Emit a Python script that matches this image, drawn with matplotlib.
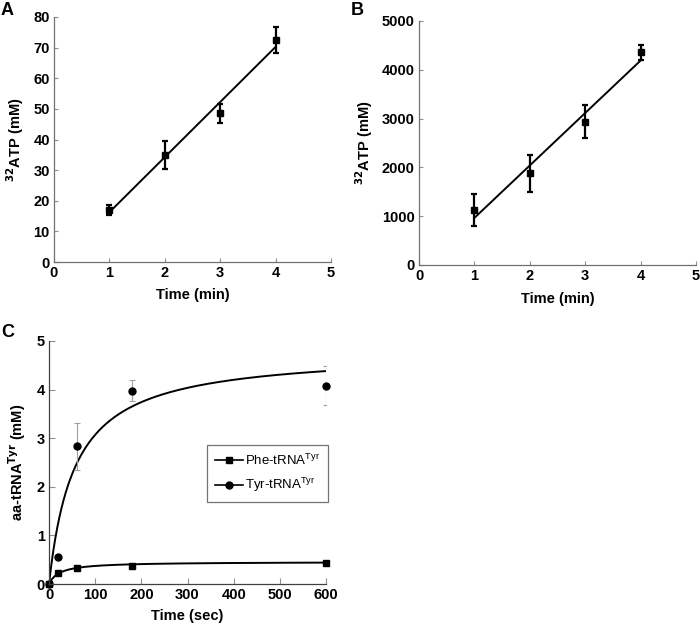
import numpy as np
import matplotlib
matplotlib.use("Agg")
import matplotlib.pyplot as plt

plt.rcParams['font.family'] = ['Liberation Sans', 'DejaVu Sans']

# Panel A / B: ATP formation over time
time_min = [1, 2, 3, 4]
atp_a = [17.0, 35.0, 48.5, 72.5]
atp_a_err = [1.5, 4.5, 3.0, 4.3]
atp_b = [1130, 1880, 2940, 4360]
atp_b_err = [330, 380, 340, 150]

# Panel C: aminoacylation time course
time_sec = [0, 20, 60, 180, 600]
phe_trna = [0.0, 0.22, 0.32, 0.38, 0.44]
tyr_trna = [0.0, 0.55, 2.83, 3.98, 4.08]
tyr_err = [0.0, 0.0, 0.48, 0.21, 0.40]
# hyperbolic fit parameters
phe_fit = (0.457, 23.0)
tyr_fit = (4.79, 56.0)

fig = plt.figure(figsize=(7, 6.28), dpi=100)
W, H = 700, 628
TICK_FS = 10.5
LABEL_FS = 10.5


def px_axes(left, top, right, bottom):
    return fig.add_axes([left / W, 1 - bottom / H, (right - left) / W, (bottom - top) / H])


def style(ax, spine_col='#707070'):
    for s in ['top', 'right']:
        ax.spines[s].set_visible(False)
    for s in ['left', 'bottom']:
        ax.spines[s].set_color(spine_col)
        ax.spines[s].set_linewidth(0.9)
    ax.tick_params(direction='in', length=3, width=0.8, color='#909090',
                   labelsize=TICK_FS, pad=3)
    for lab in ax.get_xticklabels() + ax.get_yticklabels():
        lab.set_fontweight('bold')


def linear_panel(ax, y, yerr, ymax, ystep):
    ax.errorbar(time_min, y, yerr=yerr, fmt='s', color='black', ms=5,
                elinewidth=1.6, capsize=2.5, capthick=1.6)
    k, b = np.polyfit(time_min, y, 1)
    xx = np.array([time_min[0], time_min[-1]])
    ax.plot(xx, k * xx + b, color='black', lw=1.4)
    ax.set_xlim(0, 5)
    ax.set_ylim(0, ymax)
    ax.set_xticks(range(0, 6))
    ax.set_yticks(np.arange(0, ymax + 1, ystep))
    ax.set_xlabel('Time (min)', fontsize=LABEL_FS, fontweight='bold', labelpad=6)
    ax.set_ylabel(r'$^{\mathbf{32}}$ATP (mM)', fontsize=LABEL_FS, fontweight='bold', labelpad=5)
    style(ax)


axA = px_axes(54, 17, 331, 262)
linear_panel(axA, atp_a, atp_a_err, 80, 10)
axB = px_axes(419, 21, 696, 265)
linear_panel(axB, atp_b, atp_b_err, 5000, 1000)

axC = px_axes(49, 341, 326, 584)
tt = np.linspace(0, 600, 400)
axC.plot(tt, phe_fit[0] * tt / (phe_fit[1] + tt), color='black', lw=1.4)
axC.plot(tt, tyr_fit[0] * tt / (tyr_fit[1] + tt), color='black', lw=1.4)
axC.errorbar(time_sec, tyr_trna, yerr=tyr_err, fmt='none', ecolor='#a0a0a0',
             elinewidth=0.8, capsize=2, capthick=0.8)
axC.plot(time_sec, phe_trna, 's', color='black', ms=5, clip_on=False)
axC.plot(time_sec, tyr_trna, 'o', color='black', ms=5, clip_on=False)
axC.plot([], [], '-s', color='black', ms=5, lw=1.2, label=r'Phe-tRNA$^{\mathregular{Tyr}}$')
axC.plot([], [], '-o', color='black', ms=5, lw=1.2, label=r'Tyr-tRNA$^{\mathregular{Tyr}}$')
axC.set_xlim(0, 600)
axC.set_ylim(0, 5)
axC.set_xticks(range(0, 601, 100))
axC.set_yticks(range(0, 6))
axC.set_xlabel('Time (sec)', fontsize=LABEL_FS, fontweight='bold', labelpad=5)
axC.set_ylabel(r'aa-tRNA$^{\mathbf{Tyr}}$ (mM)', fontsize=LABEL_FS, fontweight='bold', labelpad=6)
style(axC, spine_col='#404040')
axC.tick_params(length=4)
leg = axC.legend(loc='upper left', bbox_to_anchor=((207 - 49) / 277, (584 - 445) / 243),
                 fontsize=9.5, frameon=True, fancybox=False, handlelength=2.1,
                 borderpad=0.6, labelspacing=0.6, handletextpad=0.2,
                 borderaxespad=0)
leg.get_frame().set_edgecolor('#505050')
leg.get_frame().set_linewidth(0.9)

fig.text(1 / W, 1 - 15 / H, 'A', fontsize=13, fontweight='bold')
fig.text(351 / W, 1 - 15 / H, 'B', fontsize=13, fontweight='bold')
fig.text(1 / W, 1 - 337 / H, 'C', fontsize=13, fontweight='bold')

fig.savefig('out.png', dpi=100)
